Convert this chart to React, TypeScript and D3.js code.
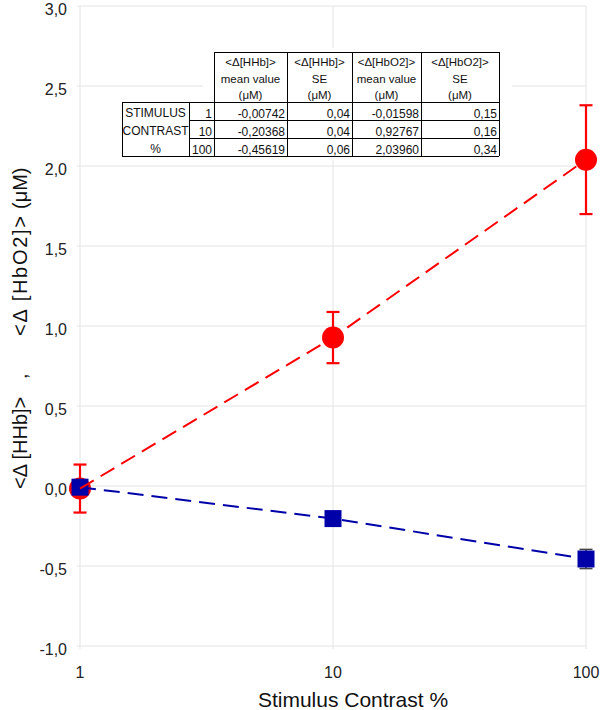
import React from "react";
import * as d3 from "d3";

const contrasts = [1, 10, 100];
const hhbMean = [-0.00742, -0.20368, -0.45619];
const hhbSE = [0.04, 0.04, 0.06];
const hbo2Mean = [-0.01598, 0.92767, 2.0396];
const hbo2SE = [0.15, 0.16, 0.34];
const yTicks = [-1, -0.5, 0, 0.5, 1, 1.5, 2, 2.5, 3];
const xTicks = [1, 10, 100];
const rowLabels = ["STIMULUS", "CONTRAST", "%"];
const colHeaders = [
  ["<Δ[HHb]>", "mean value", "(μM)"],
  ["<Δ[HHb]>", "SE", "(μM)"],
  ["<Δ[HbO2]>", "mean value", "(μM)"],
  ["<Δ[HbO2]>", "SE", "(μM)"],
];

const W = 600;
const H = 710;
const RED = "#ff0000";
const BLUE = "#0000a8";
const GRID = "#e4e4e4";
const FONT = "Arial, 'Liberation Sans', sans-serif";

export default function App() {
  const x = d3.scaleLog().domain([1, 100]).range([80, 586]);
  const y = d3.scaleLinear().domain([-1, 3]).range([646, 6]);
  const fmt1 = (v: number) => v.toFixed(1).replace(".", ",");
  const line = d3
    .line<number>()
    .x((_, i) => x(contrasts[i]))
    .y((d) => y(d));

  // table geometry
  const cols = [122, 189, 214, 287, 352, 421, 499];
  const tTop = 52;
  const rows = [102, 120, 138, 156];
  const tableValues = contrasts.map((c, i) => [
    hhbMean[i].toFixed(5).replace(".", ","),
    hhbSE[i].toFixed(2).replace(".", ","),
    hbo2Mean[i].toFixed(5).replace(".", ","),
    hbo2SE[i].toFixed(2).replace(".", ","),
  ]);

  return (
    <svg
      width={W}
      height={H}
      style={{ position: "absolute", left: 0, top: 0, background: "#fff" }}
      fontFamily={FONT}
    >
      <rect x={0} y={0} width={W} height={H} fill="#fff" />
      {/* gridlines */}
      {yTicks.map((t) => (
        <line key={"gy" + t} x1={77} x2={586} y1={y(t)} y2={y(t)} stroke={GRID} strokeWidth={1} />
      ))}
      {xTicks.map((t) => (
        <line key={"gx" + t} x1={x(t)} x2={x(t)} y1={y(3)} y2={y(-1) + 3} stroke={GRID} strokeWidth={1} />
      ))}
      {/* y tick labels */}
      {yTicks.map((t) => (
        <text key={"ty" + t} x={67} y={y(t) + 8.5} textAnchor="end" fontSize={16} fill="#222">
          {fmt1(t)}
        </text>
      ))}
      {/* x tick labels */}
      {xTicks.map((t) => (
        <text key={"tx" + t} x={x(t)} y={678} textAnchor="middle" fontSize={16} fill="#222">
          {String(t)}
        </text>
      ))}
      {/* axis titles */}
      <text x={353} y={707} textAnchor="middle" fontSize={21} fill="#111">
        Stimulus Contrast %
      </text>
      <g transform="translate(27,0) rotate(-90)">
        <text x={-489} y={0} fontSize={20} fill="#111">{"<Δ [HHb]>"}</text>
        <text x={-379} y={0} fontSize={20} fill="#111">,</text>
        <text x={-336} y={0} fontSize={20} fill="#111" textLength={120} lengthAdjust="spacing">{"<Δ [HbO2]>"}</text>
        <text x={-209} y={0} fontSize={20} fill="#111">(μM)</text>
      </g>

      {/* table */}
      <rect x={203} y={48} width={309} height={112} fill="#fff" />
      <rect x={cols[0]} y={rows[0]} width={cols[2] - cols[0]} height={rows[3] - rows[0]} fill="#fff" />
      <g stroke="#000" strokeWidth={1} shapeRendering="crispEdges">
        <line x1={cols[2]} x2={cols[6]} y1={tTop} y2={tTop} />
        <line x1={cols[0]} x2={cols[6]} y1={rows[0]} y2={rows[0]} />
        <line x1={cols[1]} x2={cols[6]} y1={rows[1]} y2={rows[1]} />
        <line x1={cols[1]} x2={cols[6]} y1={rows[2]} y2={rows[2]} />
        <line x1={cols[0]} x2={cols[6]} y1={rows[3]} y2={rows[3]} />
        <line x1={cols[0]} x2={cols[0]} y1={rows[0]} y2={rows[3]} />
        <line x1={cols[1]} x2={cols[1]} y1={rows[0]} y2={rows[3]} />
        {cols.slice(2).map((c) => (
          <line key={"tc" + c} x1={c} x2={c} y1={tTop} y2={rows[3]} />
        ))}
      </g>
      {colHeaders.map((hdr, ci) =>
        hdr.map((s, li) => (
          <text
            key={"h" + ci + li}
            x={(cols[ci + 2] + cols[ci + 3]) / 2}
            y={66 + li * 16.5}
            textAnchor="middle"
            fontSize={11.5}
            fill="#111"
          >
            {s}
          </text>
        ))
      )}
      {rowLabels.map((s, i) => (
        <text key={"rl" + i} x={(cols[0] + cols[1]) / 2} y={rows[i] + 14.5} textAnchor="middle" fontSize={12} fill="#111">
          {s}
        </text>
      ))}
      {contrasts.map((c, i) => (
        <text key={"rc" + i} x={cols[2] - 2} y={rows[i] + 16} textAnchor="end" fontSize={12} fill="#111">
          {String(c)}
        </text>
      ))}
      {tableValues.map((row, ri) =>
        row.map((s, ci) => (
          <text key={"tv" + ri + ci} x={cols[ci + 3] - 2} y={rows[ri] + 16} textAnchor="end" fontSize={12} fill="#111">
            {s}
          </text>
        ))
      )}

      {/* red error bars + circles */}
      {contrasts.map((c, i) => {
        const cx = x(c);
        const y1 = y(hbo2Mean[i] + hbo2SE[i]);
        const y2 = y(hbo2Mean[i] - hbo2SE[i]);
        return (
          <g key={"re" + i} stroke={RED} strokeWidth={2.2}>
            <line x1={cx} x2={cx} y1={y1} y2={y2} />
            <line x1={cx - 6.5} x2={cx + 6.5} y1={y1} y2={y1} />
            <line x1={cx - 6.5} x2={cx + 6.5} y1={y2} y2={y2} />
          </g>
        );
      })}
      {contrasts.map((c, i) => (
        <circle key={"rc2" + i} cx={x(c)} cy={y(hbo2Mean[i])} r={11} fill={RED} />
      ))}
      {/* blue error bars + squares */}
      {contrasts.map((c, i) => {
        const cx = x(c);
        const y1 = y(hhbMean[i] + hhbSE[i]);
        const y2 = y(hhbMean[i] - hhbSE[i]);
        return (
          <g key={"be" + i} stroke="#444" strokeWidth={1.5}>
            <line x1={cx} x2={cx} y1={y1} y2={y2} />
            <line x1={cx - 6.5} x2={cx + 6.5} y1={y1} y2={y1} />
            <line x1={cx - 6.5} x2={cx + 6.5} y1={y2} y2={y2} />
          </g>
        );
      })}
      {contrasts.map((c, i) => (
        <rect key={"bs" + i} x={x(c) - 8.5} y={y(hhbMean[i]) - 8.5} width={17} height={17} fill={BLUE} />
      ))}
      {/* dashed lines */}
      <path d={line(hhbMean) || ""} fill="none" stroke={BLUE} strokeWidth={2} strokeDasharray="16,8" />
      <path d={line(hbo2Mean) || ""} fill="none" stroke={RED} strokeWidth={2} strokeDasharray="16,8" />
    </svg>
  );
}
